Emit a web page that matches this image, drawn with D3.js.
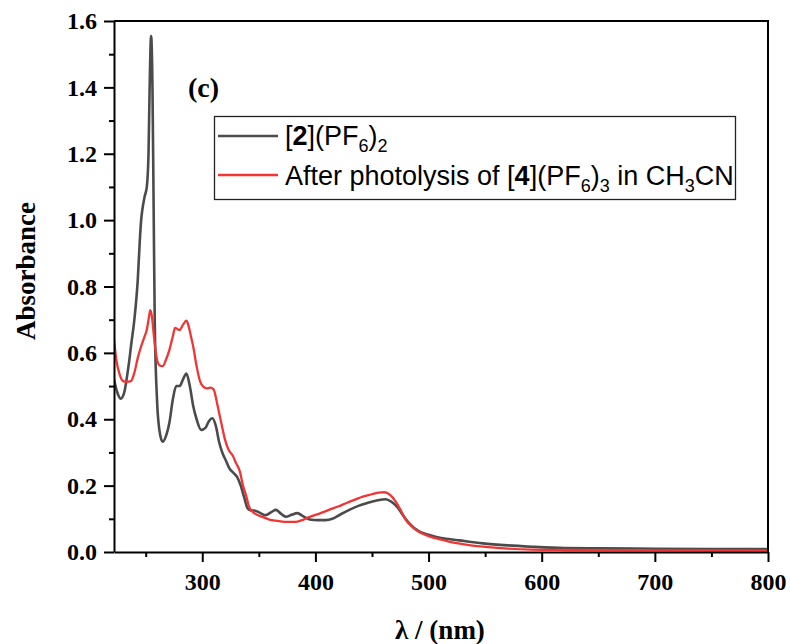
<!DOCTYPE html>
<html>
<head>
<meta charset="utf-8">
<script src="https://cdn.jsdelivr.net/npm/d3@7"></script>
<style>
  html, body { margin: 0; padding: 0; background: #fff; }
  svg { display: block; }
</style>
</head>
<body>
<svg id="chart" width="790" height="644"></svg>
<script>
// Wavelengths (nm) and absorbances for the two spectra
const wl2 = [222,225,228,231,234,236,237,240,243,245,246,247,249,251,252.5,253.5,254.8,256,257,258,260,262,265,268,271,274,277,280,283,286,289,292,295,299,303,306,309,312,315,318,321,324,328,331,334,337,340,343,346,351,356,361,365,370,374,379,384,389,395,402,409,415,422,430,438,446,455,462,467,472,478,483,492,500,506,518,527,548,570,591,620,651,700,750,800];
const abs2 = [0.52,0.48,0.462,0.48,0.54,0.59,0.62,0.70,0.82,0.95,1.0,1.03,1.07,1.10,1.20,1.40,1.555,1.40,1.05,0.70,0.46,0.37,0.332,0.35,0.39,0.46,0.50,0.50,0.52,0.538,0.50,0.44,0.40,0.368,0.375,0.395,0.403,0.38,0.33,0.297,0.275,0.252,0.237,0.225,0.20,0.165,0.132,0.125,0.125,0.118,0.111,0.12,0.127,0.114,0.106,0.112,0.117,0.108,0.098,0.096,0.096,0.10,0.113,0.127,0.139,0.148,0.156,0.159,0.152,0.137,0.108,0.086,0.061,0.052,0.046,0.039,0.035,0.026,0.02,0.016,0.012,0.011,0.010,0.009,0.009];

const wl4 = [222,224,227,230,233,237,240,243,246,249,251,253,254,255.5,257,259,262,265,268,271,274,276,278,280,283,286,288,290,292,295,298,301,304,307,310,313,315,318,320,323,327,330,333,336,339,341,343,347,353,360,368,375,383,389,395,403,412,420,427,435,442,450,456,461,466,471,476,480,485,489,495,500,510,518,530,548,570,591,620,700,800];
const abs4 = [0.64,0.58,0.535,0.515,0.513,0.515,0.54,0.585,0.62,0.649,0.67,0.71,0.729,0.71,0.66,0.60,0.563,0.56,0.58,0.609,0.65,0.675,0.672,0.669,0.685,0.697,0.68,0.65,0.619,0.56,0.515,0.498,0.493,0.495,0.49,0.45,0.418,0.37,0.34,0.31,0.29,0.267,0.245,0.20,0.167,0.14,0.127,0.115,0.106,0.097,0.093,0.091,0.091,0.097,0.106,0.115,0.127,0.137,0.147,0.158,0.167,0.174,0.179,0.180,0.172,0.152,0.122,0.096,0.078,0.066,0.055,0.048,0.038,0.031,0.024,0.016,0.010,0.007,0.006,0.005,0.004];

const xTicks = [300, 400, 500, 600, 700, 800];
const yTicks = [0.0, 0.2, 0.4, 0.6, 0.8, 1.0, 1.2, 1.4, 1.6];

const gray = "#4b4b4b", red = "#f03535";
const serif = "'Liberation Serif', 'Times New Roman', serif";
const sans = "'Liberation Sans', Arial, sans-serif";

const svg = d3.select("#chart");
const plotL = 114, plotR = 768, plotT = 21, plotB = 552;

const x = d3.scaleLinear().domain([222, 800]).range([plotL, plotR]);
const y = d3.scaleLinear().domain([0, 1.6]).range([plotB, plotT]);

// clip so curves stay inside the frame
svg.append("defs").append("clipPath").attr("id", "clip")
  .append("rect").attr("x", plotL).attr("y", plotT).attr("width", plotR - plotL).attr("height", plotB - plotT);

const line = d3.line().x(d => x(d[0])).y(d => y(d[1])).curve(d3.curveMonotoneX);

const g = svg.append("g").attr("clip-path", "url(#clip)");
g.append("path").datum(wl2.map((w, i) => [w, abs2[i]]))
  .attr("d", line).attr("fill", "none").attr("stroke", gray).attr("stroke-width", 2.6).attr("stroke-linejoin", "round");
g.append("path").datum(wl4.map((w, i) => [w, abs4[i]]))
  .attr("d", line).attr("fill", "none").attr("stroke", red).attr("stroke-width", 2.3).attr("stroke-linejoin", "round");

// x axis with major and minor ticks
svg.append("g").attr("transform", `translate(0,${plotB})`)
  .call(d3.axisBottom(x).tickValues(xTicks).tickSize(10).tickPadding(11).tickFormat(d3.format("d")).tickSizeOuter(0));
svg.append("g").attr("transform", `translate(0,${plotB})`)
  .call(d3.axisBottom(x).tickValues(d3.range(250, 800, 100)).tickSize(5).tickFormat("").tickSizeOuter(0))
  .select(".domain").remove();

// y axis with major and minor ticks
svg.append("g").attr("transform", `translate(${plotL},0)`)
  .call(d3.axisLeft(y).tickValues(yTicks).tickSize(10).tickPadding(7).tickFormat(d3.format(".1f")).tickSizeOuter(0));
svg.append("g").attr("transform", `translate(${plotL},0)`)
  .call(d3.axisLeft(y).tickValues(d3.range(0.1, 1.6, 0.2)).tickSize(5).tickFormat("").tickSizeOuter(0))
  .select(".domain").remove();

svg.selectAll(".domain, .tick line").attr("stroke", "#000").attr("stroke-width", 2);
svg.selectAll(".tick text").attr("font-family", serif).attr("font-weight", "bold").attr("font-size", 24).attr("fill", "#000");

// top and right frame
svg.append("path").attr("d", `M${plotL},${plotT}H${plotR}V${plotB}`)
  .attr("fill", "none").attr("stroke", "#000").attr("stroke-width", 2);

// axis titles
svg.append("text").attr("x", 440).attr("y", 639).attr("text-anchor", "middle")
  .attr("font-family", serif).attr("font-weight", "bold").attr("font-size", 27).text("λ / (nm)");
svg.append("text").attr("transform", "translate(35,271) rotate(-90)").attr("text-anchor", "middle")
  .attr("font-family", serif).attr("font-weight", "bold").attr("font-size", 27).text("Absorbance");

// panel label
svg.append("text").attr("x", 188).attr("y", 97)
  .attr("font-family", serif).attr("font-weight", "bold").attr("font-size", 28).text("(c)");

// legend
const lg = svg.append("g");
lg.append("rect").attr("x", 214.5).attr("y", 116.5).attr("width", 521).attr("height", 83)
  .attr("fill", "#fff").attr("stroke", "#222").attr("stroke-width", 1.3);
lg.append("line").attr("x1", 218).attr("x2", 278).attr("y1", 136).attr("y2", 136).attr("stroke", gray).attr("stroke-width", 2.6);
lg.append("line").attr("x1", 218).attr("x2", 278).attr("y1", 175).attr("y2", 175).attr("stroke", red).attr("stroke-width", 2.3);

function addLabel(yPos, parts) {
  const t = lg.append("text").attr("x", 285).attr("y", yPos)
    .attr("font-family", sans).attr("font-size", 27).attr("fill", "#000");
  parts.forEach(p => {
    const s = t.append("tspan").text(p.t);
    if (p.b) s.attr("font-weight", "bold");
    if (p.sub) s.attr("font-size", 18).attr("dy", 7);
    if (p.up) s.attr("dy", -7);
  });
}
addLabel(145, [{t: "["}, {t: "2", b: true}, {t: "](PF"}, {t: "6", sub: true}, {t: ")", up: true}, {t: "2", sub: true}]);
addLabel(185, [{t: "After photolysis of ["}, {t: "4", b: true}, {t: "](PF"}, {t: "6", sub: true}, {t: ")", up: true}, {t: "3", sub: true}, {t: " in CH", up: true}, {t: "3", sub: true}, {t: "CN", up: true}]);
</script>
</body>
</html>
